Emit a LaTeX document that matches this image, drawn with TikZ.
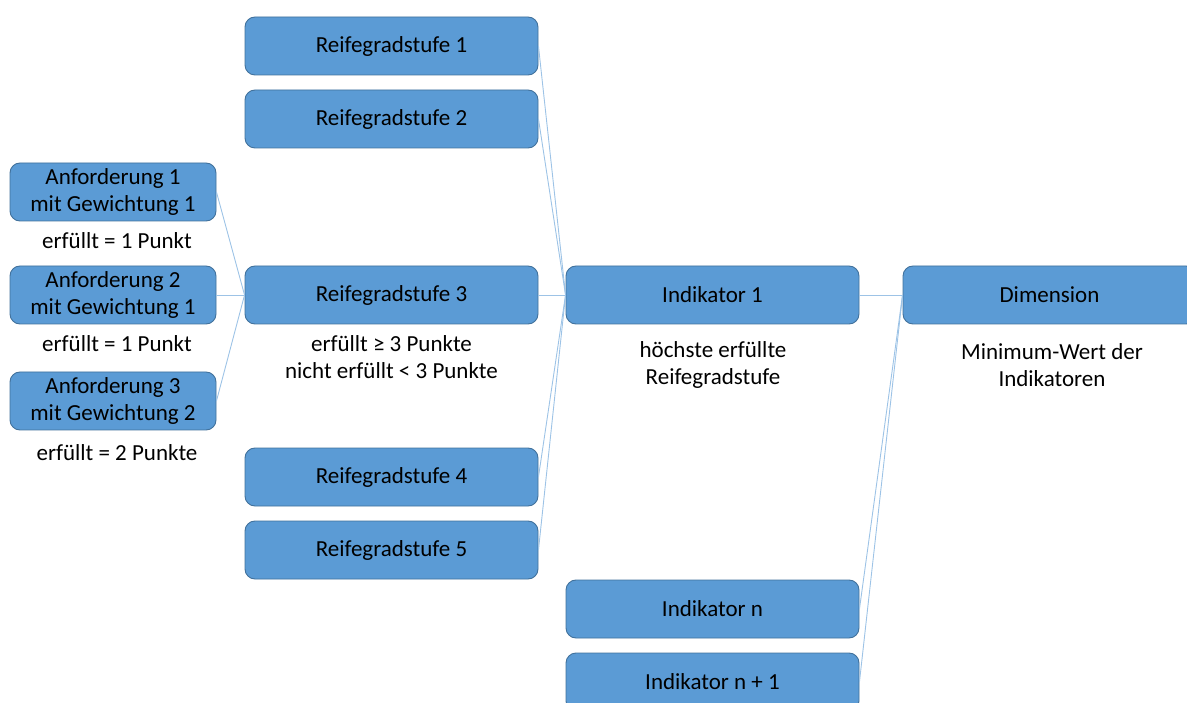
\documentclass[tikz,border=0pt]{standalone}
\usepackage{fontspec}
\setmainfont{Carlito}
\definecolor{boxfill}{RGB}{91,155,213}
\definecolor{boxline}{RGB}{65,113,156}
\definecolor{linkline}{RGB}{157,195,230}
\tikzset{
  stage/.style={draw=boxline, line width=0.9pt, fill=boxfill, rounded corners=10pt,
    minimum height=58pt, inner sep=0pt, align=center, font=\fontsize{23}{27}\selectfont},
  reqbox/.style={stage, minimum width=206pt},
  widebox/.style={stage, minimum width=293pt},
  note/.style={align=center, inner sep=0pt, font=\fontsize{23}{27}\selectfont},
  link/.style={draw=linkline, line width=0.9pt}
}
\begin{document}
\begin{tikzpicture}[x=1pt, y=-1pt]
\useasboundingbox (0,0) rectangle (1187,703);
\clip (0,0) rectangle (1187,703);

% requirements
\node[reqbox] (a1) at (113,192) {Anforderung 1\\mit Gewichtung 1};
\node[reqbox] (a2) at (113,295) {Anforderung 2\\mit Gewichtung 1};
\node[reqbox] (a3) at (113,401) {Anforderung 3\\mit Gewichtung 2};
\node[note] (n1) at (117,241) {erfüllt = 1 Punkt};
\node[note] (n2) at (117,344) {erfüllt = 1 Punkt};
\node[note] (n3) at (117,453) {erfüllt = 2 Punkte};

% maturity levels
\node[widebox] (r1) at (391.5,46) {Reifegradstufe 1};
\node[widebox] (r2) at (391.5,119) {Reifegradstufe 2};
\node[widebox] (r3) at (391.5,295) {Reifegradstufe 3};
\node[widebox] (r4) at (391.5,477) {Reifegradstufe 4};
\node[widebox] (r5) at (391.5,550) {Reifegradstufe 5};
\node[note] (nr3) at (391.5,357) {erfüllt ≥ 3 Punkte\\nicht erfüllt < 3 Punkte};

% indicators
\node[widebox] (i1) at (712.5,295) {Indikator 1};
\node[widebox] (in) at (712.5,609) {Indikator n};
\node[widebox] (in1) at (712.5,682) {Indikator n + 1};
\node[note] (ni1) at (713,365) {höchste erfüllte\\Reifegradstufe};

% dimension
\node[widebox] (d) at (1049.5,295) {Dimension};
\node[note] (nd) at (1052,365) {Minimum-Wert der\\Indikatoren};

% connectors
\foreach \s in {a1,a2,a3} \draw[link] (\s.east) -- (r3.west);
\foreach \s in {r1,r2,r3,r4,r5} \draw[link] (\s.east) -- (i1.west);
\foreach \s in {i1,in,in1} \draw[link] (\s.east) -- (d.west);
\end{tikzpicture}
\end{document}
